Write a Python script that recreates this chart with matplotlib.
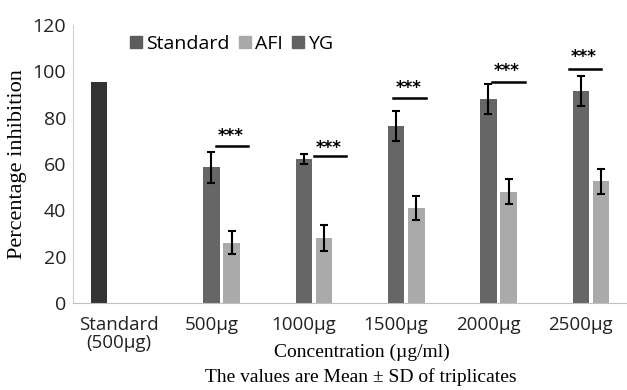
import numpy as np
import matplotlib
matplotlib.use("Agg")
from matplotlib import pyplot as plt
from matplotlib.patches import Patch

# DATA
categories = ["Standard\n(500µg)", "500µg", "1000µg", "1500µg", "2000µg", "2500µg"]
standard = [95.5, 0, 0, 0, 0, 0]
yg = [0, 58.5, 62, 76.5, 88, 91.5]
yg_sd = [0, 6.5, 2.2, 6.5, 6.4, 6.5]
afi = [0, 26, 28, 41, 48, 52.5]
afi_sd = [0, 5, 5.5, 5.2, 5.4, 5.5]
# significance line heights and star heights
sig_line = [None, 67.8, 63.4, 88.6, 95.2, 101]
sig_star = [None, 72, 67, 93, 100, 106]
sig_start = [None, 0.05, 0.11, -0.03, 0.04, -0.13]

x = np.arange(len(categories))
w = 0.18
off = 0.22

fig = plt.figure(figsize=(6.27, 3.9), dpi=100)
ax = fig.add_axes([0.1164, 0.223, 0.8836, 0.713])

ax.bar(x[:1] - off, standard[:1], w, color="#333333")
ax.bar(x[1:], yg[1:], w, color="#666666", yerr=yg_sd[1:],
       error_kw=dict(ecolor="black", capsize=3, elinewidth=1.5, capthick=1.5))
ax.bar(x[1:] + off, afi[1:], w, color="#aaaaaa", yerr=afi_sd[1:],
       error_kw=dict(ecolor="black", capsize=3, elinewidth=1.5, capthick=1.5))

# significance markers
for i in range(1, len(categories)):
    x0 = x[i] + sig_start[i]
    ax.plot([x0, x0 + 0.35], [sig_line[i], sig_line[i]], color="black", lw=1.8)
    ax.text(x0 + 0.16, sig_star[i], "***", ha="center", va="center",
            fontsize=12, fontweight="bold", color="black")

ax.set_xlim(-0.5, 5.5)
ax.set_ylim(0, 120)
ax.set_yticks(range(0, 121, 20))
ax.set_xticks(x)
ax.set_xticklabels(categories, fontsize=13.5, family="Open Sans", color="#222222",
                   linespacing=1.0)
for lab in ax.get_yticklabels():
    lab.set_fontsize(14)
    lab.set_family("Open Sans")
    lab.set_color("#222222")
ax.tick_params(axis="x", length=0, pad=9)
ax.tick_params(axis="y", length=0, pad=5)
for s in ["top", "right"]:
    ax.spines[s].set_visible(False)
ax.spines["left"].set_color("#d0d0d0")
ax.spines["bottom"].set_color("#c0c0c0")

ax.set_ylabel("Percentage inhibition", family="Liberation Serif", fontsize=16, labelpad=4)
fig.text(0.577, 0.097, "Concentration (µg/ml)", family="Liberation Serif",
         fontsize=14, ha="center", va="center")
fig.text(0.576, 0.033, "The values are Mean ± SD of triplicates",
         family="Liberation Serif", fontsize=14, ha="center", va="center")

handles = [Patch(color="#5c5c5c"), Patch(color="#a9a9a9"), Patch(color="#626262")]
fig.legend(handles, ["Standard", "AFI", "YG"], loc="upper left",
           bbox_to_anchor=(0.18, 0.955), ncol=3, frameon=False,
           handlelength=0.6, handleheight=0.6, handletextpad=0.2,
           columnspacing=0.5, prop={"family": "Open Sans", "size": 14})

fig.savefig("out.png", dpi=100)
